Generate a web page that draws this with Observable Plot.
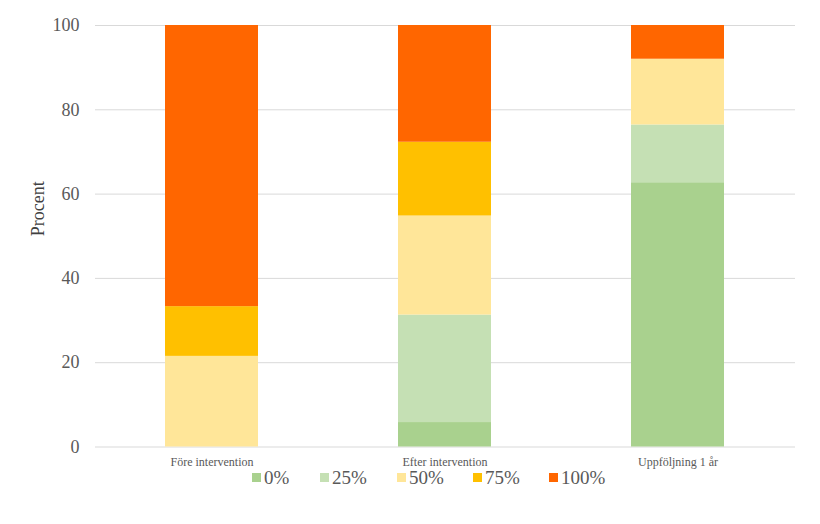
<!DOCTYPE html>
<html>
<head>
<meta charset="utf-8">
<script src="https://cdn.jsdelivr.net/npm/d3@7"></script>
<script src="https://cdn.jsdelivr.net/npm/@observablehq/plot@0.6"></script>
<style>
  body { margin: 0; background: #fff; }
  #wrap { position: relative; width: 820px; height: 524px; font-family: "Liberation Serif", "Times New Roman", serif; }
  #legend { position: absolute; top: 466px; left: 0; width: 820px; height: 24px; }
  .sw { position: absolute; top: 7px; width: 9px; height: 9px; }
  .lt { position: absolute; top: 0; font-family: "Liberation Serif", "Times New Roman", serif; font-size: 19px; color: #595959; line-height: 24px; }
</style>
</head>
<body>
<div id="wrap"><div id="chart"></div><div id="legend"></div></div>
<script>
const categories = ["Före intervention", "Efter intervention", "Uppföljning 1 år"];
const levels = ["0%", "25%", "50%", "75%", "100%"];
const colors = ["#a9d18e", "#c5e0b4", "#ffe699", "#ffc000", "#ff6600"];
const p0 = [0, 5.8, 62.7];
const p25 = [0, 25.5, 13.7];
const p50 = [21.5, 23.5, 15.6];
const p75 = [11.8, 17.5, 0];
const p100 = [66.7, 27.7, 8.0];
const yTicks = [0, 20, 40, 60, 80, 100];

const series = [p0, p25, p50, p75, p100];
const rows = [];
levels.forEach((lv, i) => categories.forEach((c, j) => rows.push({category: c, level: lv, value: series[i][j]})));

const chart = Plot.plot({
  width: 820,
  height: 470,
  marginLeft: 95,
  marginRight: 25,
  marginTop: 25,
  marginBottom: 23.5,
  style: {fontFamily: "'Liberation Serif', 'Times New Roman', serif", background: "#fff"},
  x: {domain: categories, paddingInner: 0.6, paddingOuter: 0.3, label: null, tickSize: 0, tickPadding: 10},
  y: {domain: [0, 100], ticks: yTicks, label: null, tickSize: 0},
  color: {domain: levels, range: colors},
  marks: [
    Plot.gridY(yTicks, {stroke: "#d9d9d9", strokeOpacity: 1, strokeWidth: 1}),
    Plot.barY(rows, Plot.stackY({x: "category", y: "value", z: "level", fill: "level", order: levels})),
    Plot.axisY(yTicks, {tickSize: 0, tickPadding: 16, fontSize: 18, fill: "#595959", label: null}),
    Plot.axisX({tickSize: 0, tickPadding: 10, fontSize: 12, fill: "#595959", label: null}),
    Plot.text(["Procent"], {frameAnchor: "left", dx: -57, dy: 0, rotate: -90, fontSize: 18, fill: "#404040"})
  ]
});
document.getElementById("chart").appendChild(chart);

const legendX = [252, 320, 397, 473, 549];
const leg = document.getElementById("legend");
levels.forEach((lv, i) => {
  const s = document.createElement("div");
  s.className = "sw";
  s.style.left = legendX[i] + "px";
  s.style.background = colors[i];
  leg.appendChild(s);
  const t = document.createElement("div");
  t.className = "lt";
  t.style.left = (legendX[i] + 12) + "px";
  t.textContent = lv;
  leg.appendChild(t);
});
</script>
</body>
</html>
